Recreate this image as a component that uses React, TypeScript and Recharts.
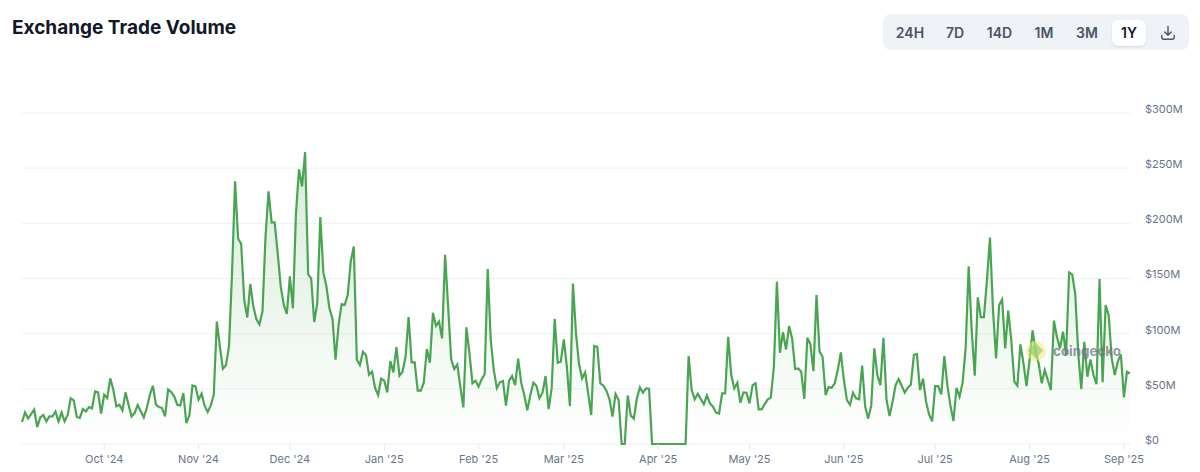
import React from "react";
import { AreaChart, Area, XAxis, YAxis, CartesianGrid } from "recharts";

const volumesSepToJan = [
  19.9, 28.7, 23.2, 27, 31.1, 15.4, 24.2, 26.3, 20.5, 25, 25, 29.3, 20.5, 28.7, 20.5, 26.3, 41.4, 39.6, 24.5, 23.6,
  31.7, 29.6, 33.5, 32.3, 47.7, 46.8, 27.5, 44.7, 41.7, 59.5, 49.2, 34.1, 35.6, 30.5, 46.8, 35.6, 25, 28, 35.3, 29.6,
  24.2, 32.6, 44.7, 52.8, 35.6, 33.5, 32.6, 25, 49.5, 47.1, 43.2, 35.6, 35, 46.2, 19, 26, 53.1, 52.2, 40.2, 45.6,
  34.7, 29, 34.7, 44.7, 111, 88.5, 68.2, 71.3, 88.5, 155, 238, 186, 181.5, 130.7, 114.7, 145, 124.7, 113, 108.4, 120,
  188, 229, 200.8, 200.8, 173, 142.8, 126, 118, 151.9, 123, 209, 249, 233.4, 264.5, 154, 150, 110.5, 127.7, 205.6, 155.5,
  142.8, 123, 113.5, 76.4, 108, 126.8, 126, 135, 165.5, 179, 76.4, 71.6, 83.6, 80.6, 62.8, 65.5, 50.7, 44.4, 59.2, 57.4,
  46.8, 75.2, 64.9, 87.9, 61.9,
];
const volumesJanToMay = [
  65.5, 79, 115, 74, 74, 48.3, 48.3, 55.6, 86, 73.7, 119, 107, 111, 95.7, 171.5, 124, 76.7, 68, 72, 52,
  33.2, 105.7, 82, 55, 57.4, 52, 58.6, 63.4, 158.5, 94, 67, 50.7, 55.9, 57, 34.7, 57.4, 61.6, 53.4, 77.3, 55.6,
  44.4, 30.5, 44.4, 55.6, 52.8, 41.4, 46.5, 61.6, 31.7, 50.4, 113.5, 73.7, 74.6, 94.8, 70, 34.4, 145.5, 100, 72.5, 59.5,
  65, 45.9, 26.3, 88.8, 88, 55, 52.8, 48.3, 40.5, 24.8, 45.3, 39.9, 0, 0, 44, 25.7, 23, 41.4, 51.3, 46.5,
  50.4, 50, 0, 0, 0, 0, 0, 0, 0, 0, 0, 0, 0, 0, 79.7, 48.9, 40.5, 45.6, 40.8, 36,
  44, 36.8, 33.8, 28.4, 27.5, 45.9, 45.9, 97.2, 62.5, 50.4, 55.6, 37.4, 46.8, 46.5, 36.8, 53.4, 55, 31.4, 31.4, 36.2,
  40.5, 42, 70, 147, 82.7, 101.4, 85.7, 106.9, 95.7, 68, 68.5,
];
const volumesMayToSep = [
  65.5, 40.8, 96.3, 90.6, 66, 135, 84, 79, 44.4, 51.6, 51, 55, 67, 83, 58, 39.9, 35.6, 46.5, 41.4, 40.5,
  71, 33.8, 23, 35, 86.7, 62.5, 53.4, 96.3, 40.5, 25.4, 38.3, 53.4, 58.9, 52.8, 46.5, 51, 53.7, 80.6, 81.5, 48.9,
  59.2, 38.3, 26.9, 20.5, 52.5, 52.5, 45, 79.7, 53.4, 35, 20.8, 51, 42.9, 55.6, 86.7, 161, 103, 62, 132.9, 115,
  115, 148.6, 187, 121, 77.6, 126, 131, 86.7, 121, 94, 56.5, 52.8, 90.3, 73, 52.5, 76, 103, 83.6, 73, 55,
  67, 58, 48.9, 111.7, 97, 86.7, 101.8, 80.6, 155.5, 153.7, 136.5, 82, 49.8, 92.7, 61, 76.7, 62.5, 54.3, 149.5, 55.9,
  126, 116.8, 77.6, 62.5, 74.6, 81.2, 42.3, 65.5, 64,
];
const volumes = [...volumesSepToJan, ...volumesJanToMay, ...volumesMayToSep];
const chartData = volumes.map((volume, day) => ({ day, volume }));

const monthDays = [27, 58, 88, 119, 150, 178, 209, 239, 270, 300, 331, 362];
const monthLabels = ["Oct '24", "Nov '24", "Dec '24", "Jan '25", "Feb '25", "Mar '25", "Apr '25", "May '25", "Jun '25", "Jul '25", "Aug '25", "Sep '25"];
const yTicks = [0, 50, 100, 150, 200, 250, 300];
const rangeLabels = ["24H", "7D", "14D", "1M", "3M", "1Y"];
const rangeCenters = [910, 955, 999.5, 1044, 1087, 1129];

const FONT = "Inter, sans-serif";

export default function App() {
  return (
    <div style={{ position: "absolute", left: 0, top: 0, width: 1200, height: 472, background: "#fff", fontFamily: FONT, overflow: "hidden" }}>
      <div style={{ position: "absolute", left: 12, top: 15, fontSize: 19, lineHeight: "26px", fontWeight: 700, color: "#111827" }}>
        Exchange Trade Volume
      </div>
      <div style={{ position: "absolute", left: 883, top: 14, width: 306, height: 36, background: "#eff2f7", borderRadius: 8 }} />
      <div style={{ position: "absolute", left: 1112, top: 20, width: 34, height: 26, background: "#fff", borderRadius: 6, boxShadow: "0 1px 2px rgba(16,24,40,0.12)" }} />
      {rangeLabels.map((label, i) => (
        <div
          key={label}
          style={{
            position: "absolute",
            left: rangeCenters[i] - 25,
            width: 50,
            top: 23,
            textAlign: "center",
            fontSize: 14,
            lineHeight: "20px",
            fontWeight: 600,
            color: label === "1Y" ? "#111827" : "#4b5565",
          }}
        >
          {label}
        </div>
      ))}
      <svg style={{ position: "absolute", left: 1160, top: 25 }} width={16} height={16} viewBox="0 0 16 16" fill="none" stroke="#4b5565" strokeWidth={1.4} strokeLinecap="round" strokeLinejoin="round">
        <path d="M8 1.5V10M4.8 7L8 10.2L11.2 7M1.8 10.5V12.2C1.8 13.4 2.6 14.2 3.8 14.2H12.2C13.4 14.2 14.2 13.4 14.2 12.2V10.5" />
      </svg>
      <div style={{ position: "absolute", left: 0, top: 0 }}>
        <AreaChart width={1200} height={472} data={chartData} margin={{ top: 113, right: 0, bottom: 0, left: 22 }}>
          <defs>
            <linearGradient id="volumeFill" x1="0" y1="0" x2="0" y2="1">
              <stop offset="0%" stopColor="#4aa553" stopOpacity={0.36} />
              <stop offset="100%" stopColor="#4aa553" stopOpacity={0} />
            </linearGradient>
          </defs>
          <CartesianGrid horizontal vertical={false} stroke="#eef0f3" strokeWidth={1} />
          <XAxis
            dataKey="day"
            type="number"
            domain={[0, 364]}
            ticks={monthDays}
            tickFormatter={(d: number) => monthLabels[monthDays.indexOf(d)]}
            height={28}
            axisLine={false}
            tickLine={{ stroke: "#e5e8ec" }}
            tickSize={6}
            tickMargin={5}
            tick={{ fontSize: 11, fill: "#677489", fontFamily: FONT }}
            interval={0}
          />
          <YAxis
            orientation="right"
            domain={[0, 300]}
            ticks={yTicks}
            tickFormatter={(v: number) => (v === 0 ? "$0" : `$${v}M`)}
            width={70}
            axisLine={false}
            tickLine={false}
            tickSize={0}
            tickMargin={15}
            tick={{ fontSize: 11, fill: "#677489", fontFamily: FONT, dy: -4 }}
            interval={0}
          />
          <Area
            type="linear"
            dataKey="volume"
            stroke="#4aa553"
            strokeWidth={2.2}
            fill="url(#volumeFill)"
            dot={false}
            activeDot={false}
            isAnimationActive={false}
          />
        </AreaChart>
      </div>
      <div style={{ position: "absolute", left: 1026, top: 341, width: 20, height: 20, borderRadius: 10, background: "#f2ea7a", opacity: 0.55 }} />
      <div style={{ position: "absolute", left: 1030, top: 345, width: 11, height: 11, background: "#8fcf6a", opacity: 0.7, transform: "rotate(45deg)" }} />
      <div style={{ position: "absolute", left: 1053, top: 342, fontSize: 13.4, lineHeight: "18px", fontWeight: 700, color: "#6f7780", opacity: 0.75 }}>
        coingecko
      </div>
    </div>
  );
}
